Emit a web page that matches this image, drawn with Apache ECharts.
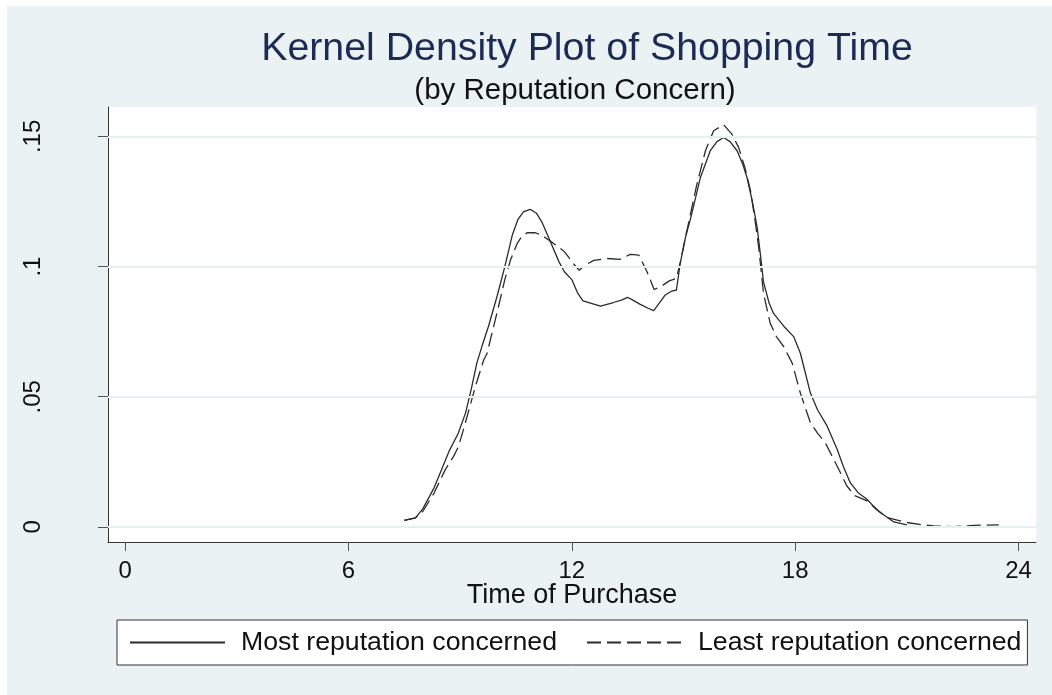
<!DOCTYPE html>
<html>
<head>
<meta charset="utf-8">
<script src="https://cdn.jsdelivr.net/npm/echarts@6/dist/echarts.min.js"></script>
<style>
html,body{margin:0;padding:0;background:#fff;}
#chart{width:1052px;height:695px;}
</style>
</head>
<body>
<div id="chart"></div>
<script>
const xTickValues = [0, 6, 12, 18, 24];
const yTickValues = [0, 0.05, 0.1, 0.15];
const yTickLabels = ['0', '.05', '.1', '.15'];
const seriesNames = ['Most reputation concerned', 'Least reputation concerned'];

const mostX = [7.5,7.8,8.0,8.3,8.5,8.7,8.95,9.15,9.3,9.45,9.6,9.76,10.0,10.2,10.4,10.55,10.7,10.88,11.05,11.2,11.35,11.5,11.65,11.8,12.0,12.15,12.3,12.77,13.12,13.35,13.5,13.65,13.84,14.05,14.2,14.35,14.51,14.69,14.81,14.91,15.05,15.2,15.45,15.72,15.9,16.08,16.25,16.44,16.6,16.71,16.85,16.98,17.08,17.15,17.3,17.42,17.7,17.96,18.14,18.41,18.6,18.86,19.13,19.3,19.48,19.7,19.93,20.1,20.29,20.65,21.0];
const mostY = [0.0025,0.0035,0.007,0.015,0.022,0.029,0.036,0.044,0.053,0.063,0.070,0.077,0.089,0.100,0.112,0.118,0.121,0.122,0.1205,0.117,0.112,0.107,0.102,0.098,0.095,0.090,0.0868,0.0848,0.0862,0.0872,0.0882,0.087,0.0855,0.084,0.0831,0.086,0.0891,0.0906,0.091,0.101,0.111,0.119,0.134,0.1445,0.148,0.1496,0.148,0.1445,0.139,0.134,0.125,0.115,0.103,0.094,0.086,0.082,0.077,0.0731,0.0667,0.0514,0.045,0.0387,0.0297,0.023,0.017,0.013,0.0106,0.008,0.0055,0.0019,0.0008];

const leastX = [7.5,7.8,8.0,8.3,8.6,8.82,8.96,9.14,9.41,9.63,9.72,10.03,10.2,10.35,10.53,10.65,10.8,11.02,11.2,11.33,11.5,11.64,11.78,11.91,12.05,12.2,12.35,12.59,12.95,13.3,13.57,13.8,14.02,14.11,14.21,14.38,14.62,14.81,14.92,15.05,15.2,15.35,15.59,15.81,16.08,16.3,16.48,16.65,16.8,16.92,17.02,17.15,17.33,17.5,17.69,17.92,18.14,18.41,18.6,18.81,19.13,19.39,19.6,19.93,20.2,20.47,21.0,21.4,21.72,22.26,22.8,23.47];
const leastY = [0.0025,0.0035,0.006,0.013,0.022,0.027,0.031,0.040,0.054,0.064,0.0665,0.0846,0.095,0.1024,0.1088,0.1115,0.113,0.113,0.112,0.1107,0.109,0.1075,0.106,0.1037,0.101,0.0986,0.1005,0.1024,0.1031,0.1028,0.1047,0.1044,0.098,0.0948,0.0912,0.0922,0.0945,0.0955,0.102,0.111,0.121,0.131,0.1445,0.1522,0.1545,0.1509,0.1458,0.138,0.1292,0.118,0.1075,0.0897,0.0782,0.073,0.0693,0.0629,0.0514,0.040,0.036,0.0323,0.0233,0.0157,0.012,0.010,0.0065,0.0036,0.0017,0.0008,0.0004,0.0001,0.0006,0.0008];

const FONT = '"Liberation Sans", Arial, Helvetica, sans-serif';
const LINE = '#2b2b2b';

const chart = echarts.init(document.getElementById('chart'), null, {renderer: 'canvas'});
chart.setOption({
  backgroundColor: '#ffffff',
  animation: false,
  graphic: [{
    type: 'rect', z: -100, silent: true,
    shape: {x: 7, y: 6, width: 1045, height: 689},
    style: {fill: '#eaf2f3'}
  }],
  title: [{
    text: 'Kernel Density Plot of Shopping Time',
    left: 587, top: 30, textAlign: 'center', padding: 0,
    textStyle: {fontFamily: FONT, fontSize: 39.3, fontWeight: 'normal', color: '#1c2b55'}
  }, {
    text: '(by Reputation Concern)',
    left: 575, top: 76, textAlign: 'center', padding: 0,
    textStyle: {fontFamily: FONT, fontSize: 29.5, fontWeight: 'normal', color: '#111111'}
  }],
  legend: {
    left: 117, top: 620,
    orient: 'horizontal',
    backgroundColor: '#ffffff',
    borderColor: '#333333', borderWidth: 1, borderRadius: 0,
    padding: [9, 6, 9, 12],
    itemWidth: 95, itemHeight: 28, itemGap: 29,
    itemStyle: {opacity: 0, color: 'rgba(0,0,0,0)', borderWidth: 0},
    textStyle: {fontFamily: FONT, fontSize: 26.7, color: '#111111', padding: [0, 0, 0, 11]},
    data: seriesNames
  },
  grid: {
    left: 108, top: 107, right: 16, bottom: 153,
    show: true, backgroundColor: '#ffffff', borderWidth: 0,
    containLabel: false
  },
  xAxis: {
    type: 'value', min: -0.46, max: 24.47,
    name: 'Time of Purchase', nameLocation: 'middle', nameGap: 40, nameMoveOverlap: false,
    nameTextStyle: {fontFamily: FONT, fontSize: 27, color: '#111111'},
    axisLine: {show: true, onZero: false, lineStyle: {color: '#333333', width: 1}},
    axisTick: {show: true, length: 9, customValues: xTickValues, lineStyle: {color: '#555555'}},
    axisLabel: {customValues: xTickValues, fontFamily: FONT, fontSize: 24, color: '#111111', margin: 17},
    splitLine: {show: false}
  },
  yAxis: {
    type: 'value', min: -0.0058, max: 0.1613,
    axisLine: {show: true, onZero: false, lineStyle: {color: '#333333', width: 1}},
    axisTick: {show: true, length: 10, customValues: yTickValues, lineStyle: {color: '#555555'}},
    axisLabel: {
      customValues: yTickValues, rotate: 90, margin: 63,
      fontFamily: FONT, fontSize: 24, color: '#111111',
      formatter: function (v) {
        for (let i = 0; i < yTickValues.length; i++) {
          if (Math.abs(v - yTickValues[i]) < 1e-9) return yTickLabels[i];
        }
        return '';
      }
    },
    splitLine: {show: false}
  },
  series: [
    {
      name: seriesNames[0], type: 'line', showSymbol: false, symbol: 'none',
      data: mostX.map((x, i) => [x, mostY[i]]),
      lineStyle: {color: LINE, width: 1.3, type: 'solid'},
      itemStyle: {color: LINE},
      z: 3,
      markLine: {
        silent: true, symbol: ['none', 'none'], label: {show: false},
        lineStyle: {color: '#e6eff1', width: 2, type: 'solid'},
        emphasis: {disabled: true},
        data: yTickValues.map(v => ({yAxis: v}))
      }
    },
    {
      name: seriesNames[1], type: 'line', showSymbol: false, symbol: 'none',
      data: leastX.map((x, i) => [x, leastY[i]]),
      lineStyle: {color: LINE, width: 1.3, type: [14, 6]},
      itemStyle: {color: LINE},
      z: 3
    }
  ]
});
</script>
</body>
</html>
